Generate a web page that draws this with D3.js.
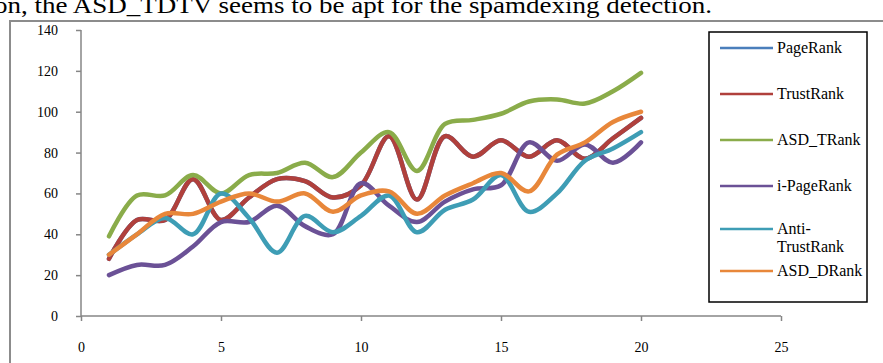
<!DOCTYPE html>
<html><head><meta charset="utf-8">
<script src="https://cdn.jsdelivr.net/npm/d3@7"></script>
<style>body{margin:0;background:#fff;overflow:hidden}svg{display:block}</style>
</head><body>
<svg id="c" width="883" height="363"></svg>
<script>
const xValues = [1,2,3,4,5,6,7,8,9,10,11,12,13,14,15,16,17,18,19,20];
const seriesNames = ["PageRank","TrustRank","ASD_TRank","i-PageRank","Anti-TrustRank","ASD_DRank"];
const trustRank     = [28,47,47,67,47,58,67,66,58,64,88,57,88,78,86,78,86,77,87,97];
const pageRank      = trustRank.slice();
const asdTRank      = [39,59,59,69,60,69,70,75,68,80,90,71,94,96,99,105,106,104,110,119];
const iPageRank     = [20,25,25,34,46,46,54,44,40,65,54,46,56,62,64,85,76,84,75,85];
const antiTrustRank = [30,40,48,40,60,48,31,49,41,49,59,41,52,57,69,51,60,76,82,90];
const asdDRank      = [30,40,50,50,56,60,56,60,51,59,61,50,59,65,70,61,79,85,95,100];
const xTicks = [0,5,10,15,20,25];
const yTicks = [0,20,40,60,80,100,120,140];
const colors = ["#4A7EBB","#B0403C","#8AAC4A","#6B5196","#3E9DB5","#E8873A"];
const allSeries = [pageRank,trustRank,asdTRank,iPageRank,antiTrustRank,asdDRank];

const svg = d3.select("#c");
const font = "'Liberation Serif','Times New Roman',serif";

// caption text above (cut at the top as in the source)
svg.append("text").attr("x",-6).attr("y",13).attr("font-family",font).attr("font-size",24)
  .attr("textLength",718).attr("lengthAdjust","spacingAndGlyphs")
  .attr("fill","#000").text("on, the ASD_TDTV seems to be apt for the spamdexing detection.");

// outer chart frame
svg.append("rect").attr("x",10).attr("y",21).attr("width",900).attr("height",400)
  .attr("fill","none").attr("stroke","#8c8c8c").attr("stroke-width",2);

const x = d3.scaleLinear().domain([0,25]).range([81,781]);
const y = d3.scaleLinear().domain([0,140]).range([316,30]);

const gy = svg.append("g").attr("transform","translate(81,0)")
  .call(d3.axisLeft(y).tickValues(yTicks).tickSize(5).tickPadding(18).tickFormat(d3.format("d")));
const gx = svg.append("g").attr("transform","translate(0,316)")
  .call(d3.axisBottom(x).tickValues(xTicks).tickSize(5).tickPadding(21).tickFormat(d3.format("d")));
[gx,gy].forEach(g=>{
  g.attr("font-family",font).attr("font-size",14);
  g.select(".domain").attr("stroke","#868686").attr("stroke-width",1.5);
  g.selectAll(".tick line").attr("stroke","#868686").attr("stroke-width",1.5);
  g.selectAll("text").attr("font-family",font).attr("font-size",14).attr("fill","#000");
});
gx.select(".domain").attr("d","M81,0H781");
gy.select(".domain").attr("d","M0,30V316");

const line = d3.line().x((d,i)=>x(xValues[i])).y(d=>y(d)).curve(d3.curveCatmullRom.alpha(0.5));
allSeries.forEach((s,k)=>{
  svg.append("path").datum(s).attr("d",line).attr("fill","none")
    .attr("stroke",colors[k]).attr("stroke-width",4.5)
    .attr("stroke-linecap","round").attr("stroke-linejoin","round");
});

// legend
const lg = svg.append("g");
lg.append("rect").attr("x",709).attr("y",32).attr("width",158).attr("height",270)
  .attr("fill","#fff").attr("stroke","#000").attr("stroke-width",1.5);
const legY = [48,94,140,186,229,271];
seriesNames.forEach((n,k)=>{
  lg.append("line").attr("x1",720).attr("x2",773).attr("y1",legY[k]).attr("y2",legY[k])
    .attr("stroke",colors[k]).attr("stroke-width",2.5);
  const t = lg.append("text").attr("x",777).attr("y",legY[k]+5).attr("font-family",font)
    .attr("font-size",16).attr("fill","#000");
  if(n==="Anti-TrustRank"){
    t.append("tspan").attr("x",777).text("Anti-");
    t.append("tspan").attr("x",777).attr("dy",18).text("TrustRank");
  } else t.text(n);
});
</script>
</body></html>
